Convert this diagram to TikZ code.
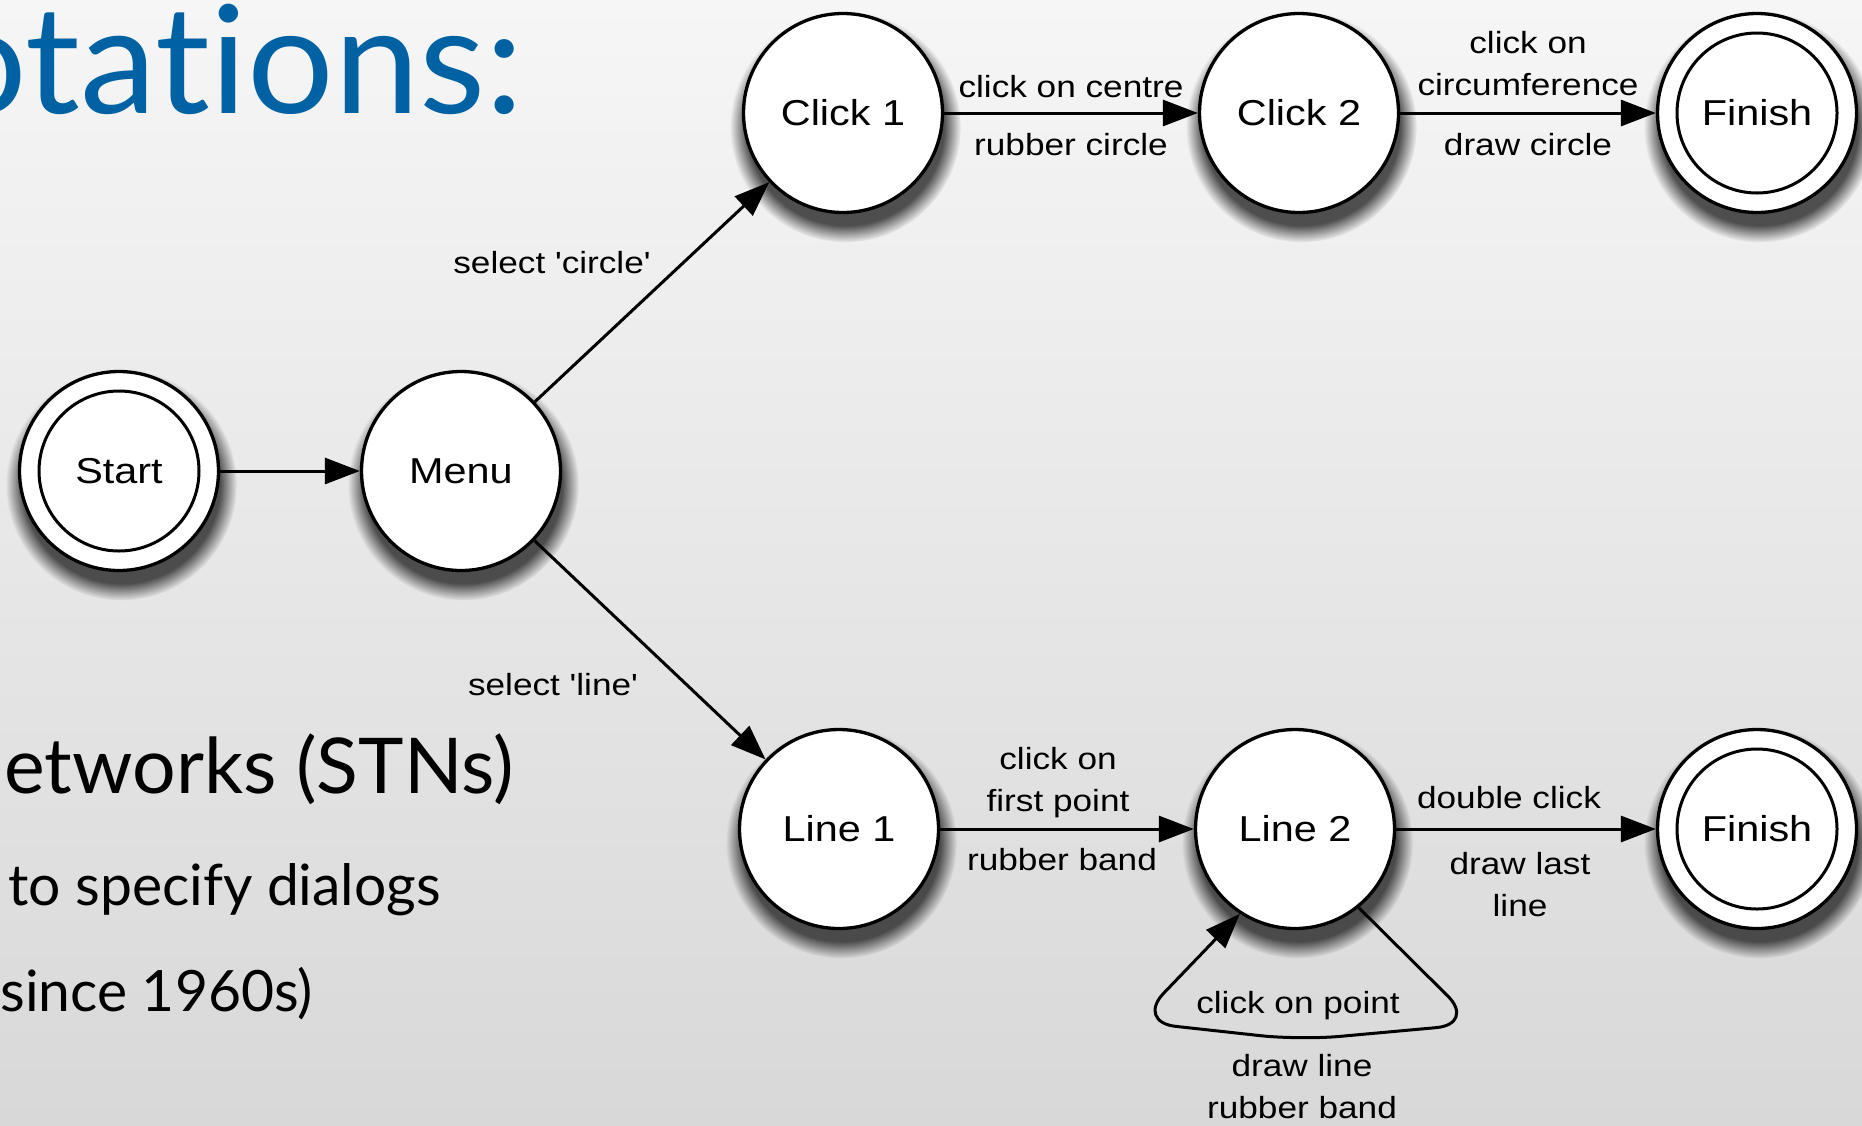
\documentclass[tikz,border=0pt]{standalone}
\usepackage{fontspec}
\setmainfont{Liberation Sans}[FakeStretch=1.15, Ligatures=TeXOff]
\newfontfamily\slidefont{Lato}[Ligatures=NoCommon]
\newfontfamily\slidewide{Lato}[Ligatures=NoCommon, FakeStretch=1.02]
\usetikzlibrary{arrows.meta,shadows,fadings}
\definecolor{titleblue}{RGB}{0,98,163}
\definecolor{bgtop}{RGB}{246,246,246}
\definecolor{bgbot}{RGB}{216,216,216}
\begin{document}
\begin{tikzpicture}[x=1pt,y=-1pt,
  state/.style={circle, draw=black, line width=3.3pt, fill=white, minimum size=199pt, inner sep=0pt,
     font=\fontsize{36}{40}\selectfont,
     circular drop shadow={shadow xshift=2pt, shadow yshift=-12pt, shadow scale=1.16, opacity=0.75, fill=black!90}},
  accept/.style={state, path picture={\draw[line width=3pt] (path picture bounding box.center) circle (80pt);}},
  edge/.style={line width=3pt, -{Triangle[length=35pt,width=26pt]}},
  lbl/.style={font=\fontsize{30.6}{42}\selectfont, inner sep=0pt, align=center},
  slide/.style={inner sep=0pt, anchor=base east},
]
\useasboundingbox (0,0) rectangle (1862,1125);
\clip (0,0) rectangle (1862,1125);
\fill[top color=bgtop, bottom color=bgbot] (0,0) rectangle (1862,1125);

% slide text
\node[slide, text=titleblue, font=\slidewide\fontsize{150}{150}\selectfont] (title) at (524,113) {otations:};
\node[slide, font=\slidefont\fontsize{77}{80}\selectfont] (b1) at (514,793) {etworks (STNs)};
\node[slide, font=\slidefont\fontsize{57}{60}\selectfont] (b2) at (441,905) {to specify dialogs};
\node[slide, font=\slidefont\fontsize{57}{60}\selectfont] (b3) at (313,1011) {since 1960s)};

% states
\node[accept] (start) at (119,471) {Start};
\node[state] (menu) at (461,471) {Menu};
\node[state] (click1) at (843,113) {Click 1};
\node[state] (click2) at (1299,113) {Click 2};
\node[accept] (fin1) at (1757,113) {Finish};
\node[state] (line1) at (839,829) {Line 1};
\node[state] (line2) at (1295,829) {Line 2};
\node[accept] (fin2) at (1757,829) {Finish};

% transitions
\draw[edge] (start) -- (menu);
\draw[edge] (menu) -- (click1);
\draw[edge] (menu) -- (line1);
\node[lbl, anchor=base] (selc) at (552,273) {select 'circle'};
\node[lbl, anchor=base] (sell) at (553,695) {select 'line'};

\draw[edge] (click1) -- node[lbl, anchor=base, yshift=16pt] (e1a) {click on centre}
                        node[lbl, anchor=base, yshift=-42pt] (e1b) {rubber circle} (click2);
\draw[edge] (click2) -- node[lbl, anchor=base, yshift=18pt] (e2a) {click on\\circumference}
                        node[lbl, anchor=base, yshift=-42pt] (e2b) {draw circle} (fin1);
\draw[edge] (line1) -- node[lbl, anchor=base, yshift=18pt, xshift=-9pt] (e3a) {click on\\first point}
                       node[lbl, anchor=base, yshift=-41pt, xshift=-5pt] (e3b) {rubber band} (line2);
\draw[edge] (line2) -- node[lbl, anchor=base, yshift=21pt, xshift=-17pt] (e4a) {double click}
                       node[lbl, anchor=base, yshift=-87pt, xshift=-6pt] (e4b) {draw last\\line} (fin2);

% self loop on Line 2
\coordinate (lpr) at (1476,1024);
\coordinate (lpb) at (1300,1040);
\coordinate (lpl) at (1136,1022);
\draw[edge, rounded corners=40pt] (line2.-51) -- (lpr) -- (lpb) -- (lpl) -- (line2.-123);
\node[lbl, anchor=base] (e5a) at (1298,1013) {click on point};
\node[lbl, anchor=base] (e5b) at (1302,1118) {draw line\\rubber band};
\end{tikzpicture}
\end{document}
